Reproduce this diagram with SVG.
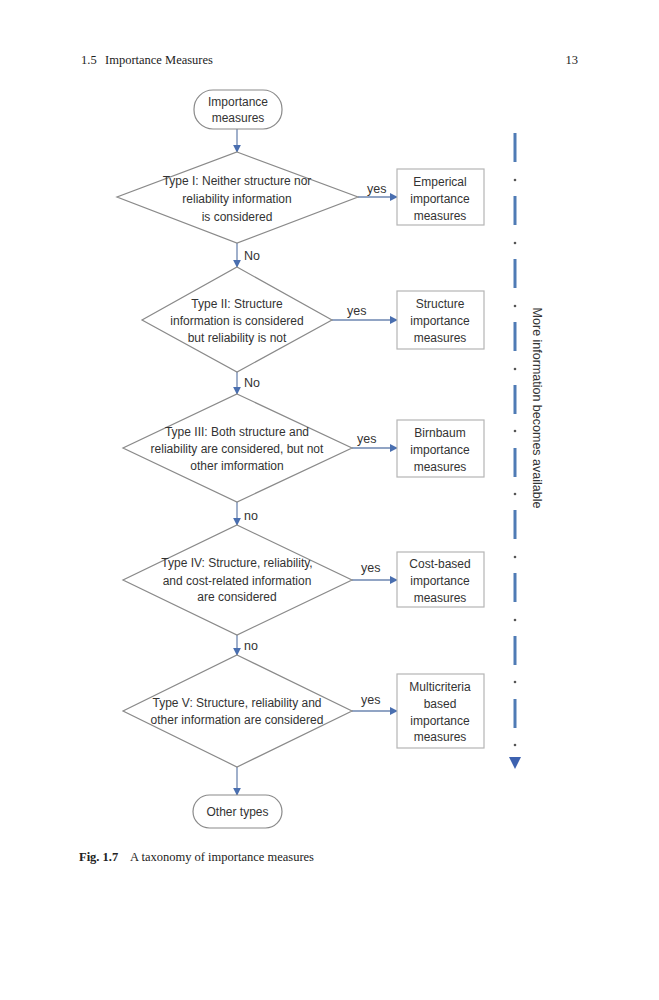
<svg xmlns="http://www.w3.org/2000/svg" width="659" height="1000" viewBox="0 0 659 1000">
<defs>
<style>
.shape{fill:#fff;stroke:#8a8a8a;stroke-width:1.2}
.box{fill:#fff;stroke:#b5b5b5;stroke-width:1.2}
.t{font-family:"Liberation Sans",Arial,sans-serif;font-size:12px;fill:#333;text-anchor:middle}
.lbl{font-family:"Liberation Sans",Arial,sans-serif;font-size:12.5px;fill:#333}
.conn{stroke:#6d86b0;stroke-width:1.3;fill:none;marker-end:url(#ah)}
.hdr{font-family:"Liberation Serif","Times New Roman",serif;font-size:12.5px;fill:#222}
.dash{stroke:#4f7bb5;stroke-width:3}
.dot{fill:#555}
</style>
<marker id="ah" viewBox="0 0 10 10" refX="9" refY="5" markerWidth="8" markerHeight="8" markerUnits="userSpaceOnUse" orient="auto">
<path d="M0,0 L10,5 L0,10 z" fill="#4a6fb0"/>
</marker>
</defs>
<rect width="659" height="1000" fill="#fff"/>
<g id="header">
<text class="hdr" x="81" y="64">1.5<tspan x="105">Importance Measures</tspan></text>
<text class="hdr" x="578" y="64" text-anchor="end">13</text>
</g>
<g id="connectors">
<line class="conn" x1="237" y1="128" x2="237" y2="152"/>
<line class="conn" x1="237" y1="243" x2="237" y2="267"/>
<line class="conn" x1="237" y1="372" x2="237" y2="394"/>
<line class="conn" x1="237" y1="502" x2="237" y2="525"/>
<line class="conn" x1="237" y1="635" x2="237" y2="655"/>
<line class="conn" x1="237" y1="767" x2="237" y2="795"/>
<line class="conn" x1="358" y1="197" x2="397" y2="197"/>
<line class="conn" x1="332" y1="320" x2="397" y2="320"/>
<line class="conn" x1="352" y1="448" x2="397" y2="448"/>
<line class="conn" x1="352" y1="580" x2="397" y2="580"/>
<line class="conn" x1="352" y1="711" x2="397" y2="711"/>
<text class="lbl" x="244" y="260">No</text>
<text class="lbl" x="244" y="387">No</text>
<text class="lbl" x="244" y="520">no</text>
<text class="lbl" x="244" y="650">no</text>
<text class="lbl" x="367" y="193">yes</text>
<text class="lbl" x="347" y="315">yes</text>
<text class="lbl" x="357" y="443">yes</text>
<text class="lbl" x="361" y="572">yes</text>
<text class="lbl" x="361" y="704">yes</text>
</g>
<g id="start">
<rect class="shape" x="194" y="90" width="88" height="39" rx="19"/>
<text class="t" x="238" y="106">Importance</text>
<text class="t" x="238" y="122">measures</text>
</g>
<g id="d1">
<polygon class="shape" points="237,152 358,197 237,243 117,197"/>
<text class="t" x="237" y="185">Type I: Neither structure nor</text>
<text class="t" x="237" y="203">reliability information</text>
<text class="t" x="237" y="221">is considered</text>
</g>
<g id="b1">
<rect class="box" x="397" y="169" width="87" height="56"/>
<text class="t" x="440" y="186">Emperical</text>
<text class="t" x="440" y="203">importance</text>
<text class="t" x="440" y="220">measures</text>
</g>
<g id="d2">
<polygon class="shape" points="237,267 332,320 237,372 142,320"/>
<text class="t" x="237" y="308">Type II: Structure</text>
<text class="t" x="237" y="325">information is considered</text>
<text class="t" x="237" y="342">but reliability is not</text>
</g>
<g id="b2">
<rect class="box" x="397" y="291" width="87" height="58"/>
<text class="t" x="440" y="308">Structure</text>
<text class="t" x="440" y="325">importance</text>
<text class="t" x="440" y="342">measures</text>
</g>
<g id="d3">
<polygon class="shape" points="237,394 352,448 237,502 123,448"/>
<text class="t" x="237" y="436">Type III: Both structure and</text>
<text class="t" x="237" y="453">reliability are considered, but not</text>
<text class="t" x="237" y="470">other imformation</text>
</g>
<g id="b3">
<rect class="box" x="397" y="420" width="87" height="57"/>
<text class="t" x="440" y="437">Birnbaum</text>
<text class="t" x="440" y="454">importance</text>
<text class="t" x="440" y="471">measures</text>
</g>
<g id="d4">
<polygon class="shape" points="237,525 352,580 237,635 123,580"/>
<text class="t" x="237" y="567">Type IV: Structure, reliability,</text>
<text class="t" x="237" y="585">and cost-related information</text>
<text class="t" x="237" y="601">are considered</text>
</g>
<g id="b4">
<rect class="box" x="397" y="552" width="87" height="55"/>
<text class="t" x="440" y="568">Cost-based</text>
<text class="t" x="440" y="585">importance</text>
<text class="t" x="440" y="602">measures</text>
</g>
<g id="d5">
<polygon class="shape" points="237,655 352,711 237,767 123,711"/>
<text class="t" x="237" y="707">Type V: Structure, reliability and</text>
<text class="t" x="237" y="724">other information are considered</text>
</g>
<g id="b5">
<rect class="box" x="397" y="674" width="87" height="74"/>
<text class="t" x="440" y="691">Multicriteria</text>
<text class="t" x="440" y="708">based</text>
<text class="t" x="440" y="725">importance</text>
<text class="t" x="440" y="741">measures</text>
</g>
<g id="end">
<rect class="shape" x="193" y="795" width="89" height="33" rx="16.5"/>
<text class="t" x="237.5" y="816">Other types</text>
</g>
<g id="info-arrow">
<line class="dash" x1="515" y1="133" x2="515" y2="162"/>
<line class="dash" x1="515" y1="196" x2="515" y2="225"/>
<line class="dash" x1="515" y1="259" x2="515" y2="288"/>
<line class="dash" x1="515" y1="322" x2="515" y2="351"/>
<line class="dash" x1="515" y1="385" x2="515" y2="414"/>
<line class="dash" x1="515" y1="448" x2="515" y2="477"/>
<line class="dash" x1="515" y1="510" x2="515" y2="539"/>
<line class="dash" x1="515" y1="573" x2="515" y2="602"/>
<line class="dash" x1="515" y1="636" x2="515" y2="665"/>
<line class="dash" x1="515" y1="699" x2="515" y2="728"/>
<circle class="dot" cx="515" cy="180" r="1.3"/>
<circle class="dot" cx="515" cy="243" r="1.3"/>
<circle class="dot" cx="515" cy="306" r="1.3"/>
<circle class="dot" cx="515" cy="369" r="1.3"/>
<circle class="dot" cx="515" cy="431" r="1.3"/>
<circle class="dot" cx="515" cy="494" r="1.3"/>
<circle class="dot" cx="515" cy="557" r="1.3"/>
<circle class="dot" cx="515" cy="620" r="1.3"/>
<circle class="dot" cx="515" cy="682" r="1.3"/>
<circle class="dot" cx="515" cy="745" r="1.3"/>
<path d="M509,757 L521,757 L515,769 z" fill="#3d62b0"/>
<text class="lbl" x="0" y="0" text-anchor="middle" transform="translate(533,408) rotate(90)">More information becomes available</text>
</g>
<g id="caption">
<text class="hdr" x="79" y="861"><tspan font-weight="bold">Fig. 1.7</tspan><tspan x="130">A taxonomy of importance measures</tspan></text>
</g>
</svg>
